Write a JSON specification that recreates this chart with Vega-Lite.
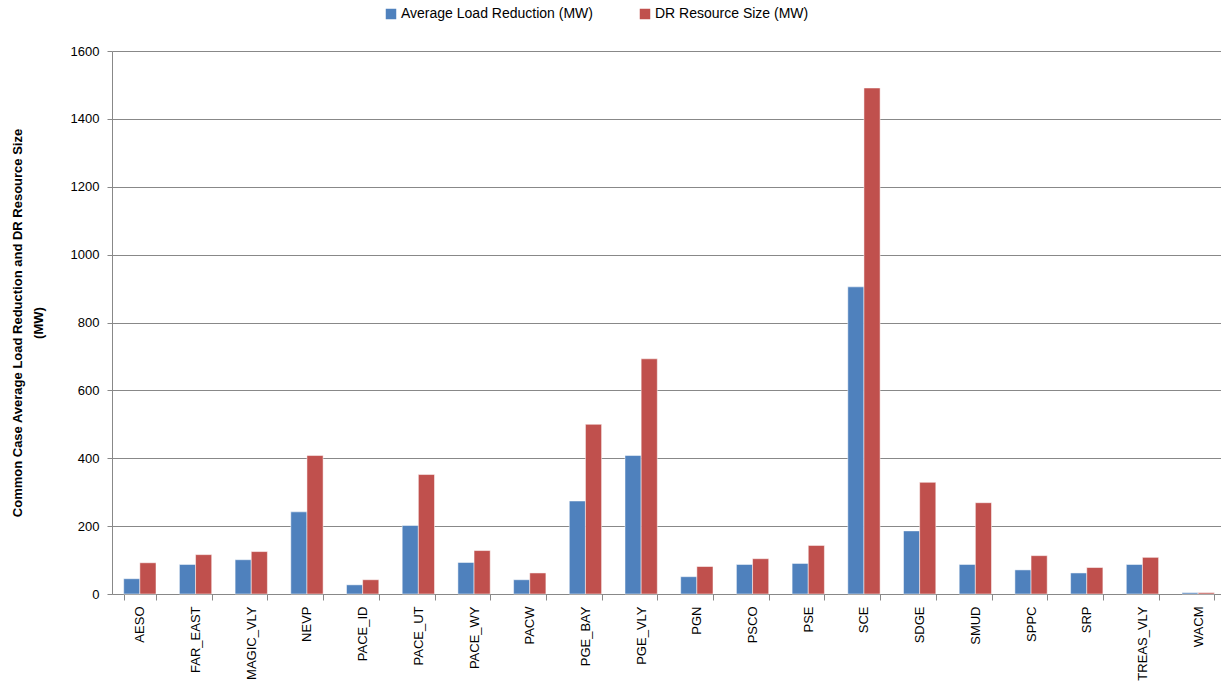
{
  "$schema": "https://vega.github.io/schema/vega-lite/v6.json",
  "autosize": "none",
  "width": 1114,
  "height": 543,
  "padding": {"left": 112, "top": 51, "right": 0, "bottom": 106},
  "background": "white",
  "config": {
    "font": "Liberation Sans",
    "view": {"stroke": null}
  },
  "data": {
    "values": [
      {"region": "AESO", "series": "Average Load Reduction (MW)", "value": 45},
      {"region": "AESO", "series": "DR Resource Size (MW)", "value": 92},
      {"region": "FAR_EAST", "series": "Average Load Reduction (MW)", "value": 87},
      {"region": "FAR_EAST", "series": "DR Resource Size (MW)", "value": 116},
      {"region": "MAGIC_VLY", "series": "Average Load Reduction (MW)", "value": 101},
      {"region": "MAGIC_VLY", "series": "DR Resource Size (MW)", "value": 125},
      {"region": "NEVP", "series": "Average Load Reduction (MW)", "value": 242},
      {"region": "NEVP", "series": "DR Resource Size (MW)", "value": 408},
      {"region": "PACE_ID", "series": "Average Load Reduction (MW)", "value": 27},
      {"region": "PACE_ID", "series": "DR Resource Size (MW)", "value": 42},
      {"region": "PACE_UT", "series": "Average Load Reduction (MW)", "value": 202},
      {"region": "PACE_UT", "series": "DR Resource Size (MW)", "value": 352},
      {"region": "PACE_WY", "series": "Average Load Reduction (MW)", "value": 93},
      {"region": "PACE_WY", "series": "DR Resource Size (MW)", "value": 128},
      {"region": "PACW", "series": "Average Load Reduction (MW)", "value": 42},
      {"region": "PACW", "series": "DR Resource Size (MW)", "value": 62},
      {"region": "PGE_BAY", "series": "Average Load Reduction (MW)", "value": 274},
      {"region": "PGE_BAY", "series": "DR Resource Size (MW)", "value": 500},
      {"region": "PGE_VLY", "series": "Average Load Reduction (MW)", "value": 408},
      {"region": "PGE_VLY", "series": "DR Resource Size (MW)", "value": 693},
      {"region": "PGN", "series": "Average Load Reduction (MW)", "value": 51},
      {"region": "PGN", "series": "DR Resource Size (MW)", "value": 81},
      {"region": "PSCO", "series": "Average Load Reduction (MW)", "value": 87},
      {"region": "PSCO", "series": "DR Resource Size (MW)", "value": 104},
      {"region": "PSE", "series": "Average Load Reduction (MW)", "value": 90},
      {"region": "PSE", "series": "DR Resource Size (MW)", "value": 143},
      {"region": "SCE", "series": "Average Load Reduction (MW)", "value": 905},
      {"region": "SCE", "series": "DR Resource Size (MW)", "value": 1491},
      {"region": "SDGE", "series": "Average Load Reduction (MW)", "value": 186},
      {"region": "SDGE", "series": "DR Resource Size (MW)", "value": 329},
      {"region": "SMUD", "series": "Average Load Reduction (MW)", "value": 87},
      {"region": "SMUD", "series": "DR Resource Size (MW)", "value": 269},
      {"region": "SPPC", "series": "Average Load Reduction (MW)", "value": 71},
      {"region": "SPPC", "series": "DR Resource Size (MW)", "value": 113},
      {"region": "SRP", "series": "Average Load Reduction (MW)", "value": 62},
      {"region": "SRP", "series": "DR Resource Size (MW)", "value": 78},
      {"region": "TREAS_VLY", "series": "Average Load Reduction (MW)", "value": 87},
      {"region": "TREAS_VLY", "series": "DR Resource Size (MW)", "value": 108},
      {"region": "WACM", "series": "Average Load Reduction (MW)", "value": 4},
      {"region": "WACM", "series": "DR Resource Size (MW)", "value": 4}
    ]
  },
  "mark": {"type": "bar", "stroke": "white", "strokeOpacity": 0.5, "strokeWidth": 1},
  "encoding": {
    "x": {
      "field": "region",
      "type": "nominal",
      "sort": null,
      "scale": {"paddingInner": 0.42, "paddingOuter": 0.21},
      "axis": {
        "title": null,
        "labelAngle": -90,
        "labelFontSize": 13,
        "labelColor": "black",
        "labelPadding": 6,
        "domainColor": "#888888",
        "tickColor": "#888888",
        "tickSize": 6,
        "tickBand": "extent",
        "grid": false
      }
    },
    "xOffset": {"field": "series", "type": "nominal", "sort": null},
    "y": {
      "field": "value",
      "type": "quantitative",
      "scale": {"domain": [0, 1600], "nice": false},
      "axis": {
        "values": [0, 200, 400, 600, 800, 1000, 1200, 1400, 1600],
        "format": "d",
        "title": ["Common Case Average Load Reduction and  DR Resource Size", "(MW)"],
        "titleFontSize": 13,
        "titleFontWeight": "bold",
        "titleColor": "black",
        "titleLineHeight": 21,
        "titlePadding": 25,
        "labelFontSize": 13,
        "labelColor": "black",
        "labelPadding": 8,
        "domainColor": "#888888",
        "tickColor": "#888888",
        "tickSize": 5,
        "gridColor": "#888888",
        "gridWidth": 1
      }
    },
    "color": {
      "field": "series",
      "type": "nominal",
      "sort": null,
      "scale": {"range": ["#4F81BD", "#C0504D"]},
      "legend": {
        "title": null,
        "orient": "none",
        "direction": "horizontal",
        "legendX": 272,
        "legendY": -44,
        "symbolType": "square",
        "symbolSize": 110,
        "symbolStrokeWidth": 0,
        "symbolOpacity": 1,
        "labelFontSize": 14,
        "labelLimit": 400,
        "labelColor": "black",
        "labelOffset": 3,
        "columnPadding": 45
      }
    }
  }
}
